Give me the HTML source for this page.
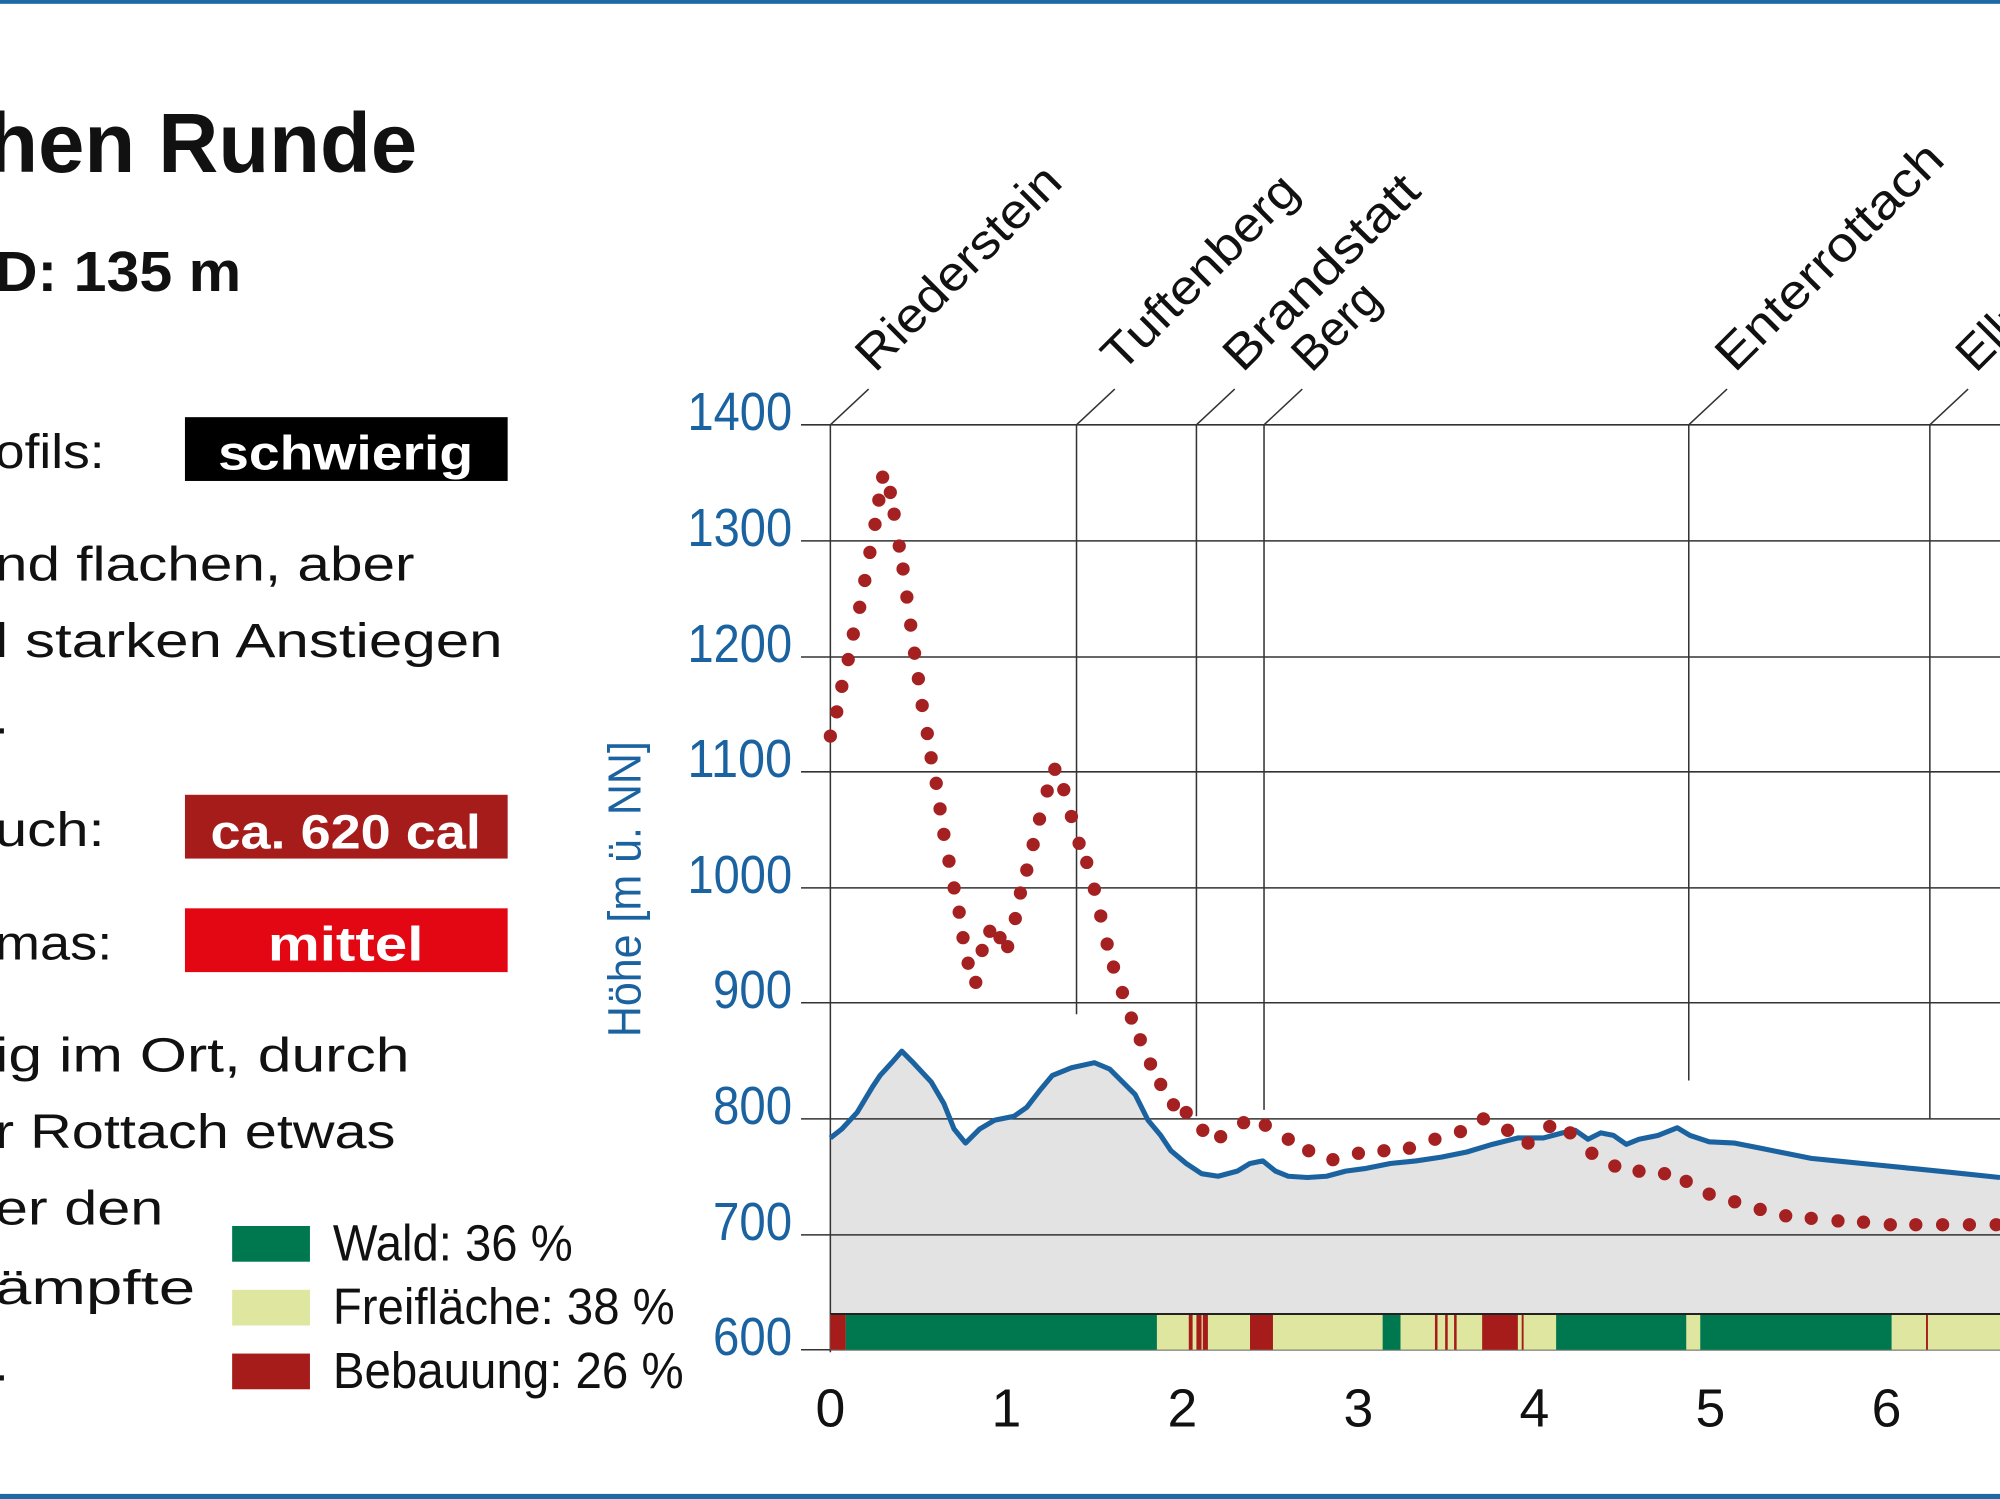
<!DOCTYPE html>
<html><head><meta charset="utf-8"><style>html,body{margin:0;padding:0;background:#fff;overflow:hidden}svg{display:block}</style></head><body>
<svg width="2000" height="1499" viewBox="0 0 1568 1175" preserveAspectRatio="none" xmlns="http://www.w3.org/2000/svg" font-family="Liberation Sans, sans-serif">
<rect width="1568" height="1175" fill="#fff"/>
<rect x="0" y="0" width="1568" height="3" fill="#1f6aa5"/>
<rect x="0" y="1171" width="1568" height="4" fill="#1f6aa5"/>
<g fill="#111">
<text x="-10" y="135" font-size="66" font-weight="bold" textLength="337" lengthAdjust="spacingAndGlyphs">hen Runde</text>
<text x="-4" y="228" font-size="44" font-weight="bold" textLength="193" lengthAdjust="spacingAndGlyphs">D: 135 m</text>
<g font-size="38" lengthAdjust="spacingAndGlyphs">
<text x="-4" y="367" textLength="86" lengthAdjust="spacingAndGlyphs">ofils:</text>
<text x="-4" y="455" textLength="329" lengthAdjust="spacingAndGlyphs">nd flachen, aber</text>
<text x="-4" y="515" textLength="398" lengthAdjust="spacingAndGlyphs">l starken Anstiegen</text>
<text x="-4" y="575"> .</text>
<text x="-4" y="663" textLength="86" lengthAdjust="spacingAndGlyphs">uch:</text>
<text x="-4" y="752" textLength="92" lengthAdjust="spacingAndGlyphs">mas:</text>
<text x="-4" y="840" textLength="325" lengthAdjust="spacingAndGlyphs">ig im Ort, durch</text>
<text x="-4" y="900" textLength="314" lengthAdjust="spacingAndGlyphs">r Rottach etwas</text>
<text x="-4" y="960" textLength="132" lengthAdjust="spacingAndGlyphs">er den</text>
<text x="-4" y="1022" textLength="157" lengthAdjust="spacingAndGlyphs">ämpfte</text>
<text x="-4" y="1082"> .</text>
</g>
</g>
<rect x="145" y="327" width="253" height="50" fill="#000"/>
<text x="271" y="368" font-size="38" font-weight="bold" fill="#fff" text-anchor="middle" textLength="200" lengthAdjust="spacingAndGlyphs">schwierig</text>
<rect x="145" y="623" width="253" height="50" fill="#a51c1a"/>
<text x="271" y="665" font-size="38" font-weight="bold" fill="#fff" text-anchor="middle" textLength="212" lengthAdjust="spacingAndGlyphs">ca. 620 cal</text>
<rect x="145" y="712" width="253" height="50" fill="#e30613"/>
<text x="271" y="753" font-size="38" font-weight="bold" fill="#fff" text-anchor="middle" textLength="122" lengthAdjust="spacingAndGlyphs">mittel</text>
<rect x="182" y="961" width="61" height="28" fill="#00784f"/>
<rect x="182" y="1011" width="61" height="28" fill="#dfe6a0"/>
<rect x="182" y="1061" width="61" height="28" fill="#a51c1a"/>
<g font-size="40" fill="#111">
<text x="261" y="988" textLength="188" lengthAdjust="spacingAndGlyphs">Wald: 36 %</text>
<text x="261" y="1038" textLength="268" lengthAdjust="spacingAndGlyphs">Freifläche: 38 %</text>
<text x="261" y="1088" textLength="275" lengthAdjust="spacingAndGlyphs">Bebauung: 26 %</text>
</g>
<text transform="translate(502,697) rotate(-90)" font-size="36" fill="#1b63a0" text-anchor="middle" textLength="232" lengthAdjust="spacingAndGlyphs">Höhe [m ü. NN]</text>
<g font-size="42" fill="#1b63a0" text-anchor="end">
<text x="621" y="337" textLength="82" lengthAdjust="spacingAndGlyphs">1400</text>
<text x="621" y="428" textLength="82" lengthAdjust="spacingAndGlyphs">1300</text>
<text x="621" y="519" textLength="82" lengthAdjust="spacingAndGlyphs">1200</text>
<text x="621" y="609" textLength="82" lengthAdjust="spacingAndGlyphs">1100</text>
<text x="621" y="700" textLength="82" lengthAdjust="spacingAndGlyphs">1000</text>
<text x="621" y="790" textLength="62" lengthAdjust="spacingAndGlyphs">900</text>
<text x="621" y="881" textLength="62" lengthAdjust="spacingAndGlyphs">800</text>
<text x="621" y="972" textLength="62" lengthAdjust="spacingAndGlyphs">700</text>
<text x="621" y="1062" textLength="62" lengthAdjust="spacingAndGlyphs">600</text>
</g>
<path fill="#e3e3e3" d="M651,1030 L651,892 L660,885 L672,872 L684,852 L690,843 L700,832 L707,824 L715,832 L730,848 L740,865 L748,885 L757,896 L768,885 L780,878 L795,875 L805,868 L815,855 L825,843 L840,837 L858,833 L870,838 L880,848 L890,858 L900,878 L910,890 L918,902 L930,912 L942,920 L955,922 L970,918 L980,912 L990,910 L1000,918 L1010,922 L1025,923 L1040,922 L1055,918 L1070,916 L1090,912 L1110,910 L1130,907 L1150,903 L1170,897 L1190,892 L1210,892 L1225,888 L1235,886 L1245,893 L1255,888 L1265,890 L1275,897 L1285,893 L1300,890 L1315,884 L1325,890 L1340,895 L1360,896 L1380,900 L1400,904 L1420,908 L1440,910 L1470,913 L1500,916 L1530,919 L1568,923 L1568,1030 Z"/>
<g stroke="#333" stroke-width="1.2">
<line x1="628" y1="333" x2="1568" y2="333"/>
<line x1="628" y1="424" x2="1568" y2="424"/>
<line x1="628" y1="515" x2="1568" y2="515"/>
<line x1="628" y1="605" x2="1568" y2="605"/>
<line x1="628" y1="696" x2="1568" y2="696"/>
<line x1="628" y1="786" x2="1568" y2="786"/>
<line x1="628" y1="877" x2="1568" y2="877"/>
<line x1="628" y1="968" x2="1568" y2="968"/>
<line x1="628" y1="1058" x2="1568" y2="1058"/>
<line x1="651" y1="333" x2="651" y2="1060"/>
<line x1="844" y1="333" x2="844" y2="795"/>
<line x1="938" y1="333" x2="938" y2="875"/>
<line x1="991" y1="333" x2="991" y2="870"/>
<line x1="1324" y1="333" x2="1324" y2="847"/>
<line x1="1513" y1="333" x2="1513" y2="877"/>
<line x1="651" y1="333" x2="681" y2="305"/>
<line x1="844" y1="333" x2="874" y2="305"/>
<line x1="938" y1="333" x2="968" y2="305"/>
<line x1="991" y1="333" x2="1021" y2="305"/>
<line x1="1324" y1="333" x2="1354" y2="305"/>
<line x1="1513" y1="333" x2="1543" y2="305"/>
</g>
<g font-size="38" fill="#111">
<text transform="translate(686,293) rotate(-45)" textLength="210" lengthAdjust="spacingAndGlyphs">Riederstein</text>
<text transform="translate(879,293) rotate(-45)" textLength="200" lengthAdjust="spacingAndGlyphs">Tuftenberg</text>
<text transform="translate(974,293) rotate(-45)" textLength="200" lengthAdjust="spacingAndGlyphs">Brandstatt</text>
<text transform="translate(1028,293) rotate(-45)">Berg</text>
<text transform="translate(1360,293) rotate(-45)" textLength="235" lengthAdjust="spacingAndGlyphs">Enterrottach</text>
<text transform="translate(1549,293) rotate(-45)">Ellmau</text>
</g>
<rect x="651" y="1030" width="917" height="28" fill="#dfe6a0"/>
<g fill="#00784f">
<rect x="663" y="1030" width="244" height="28"/>
<rect x="1084" y="1030" width="14" height="28"/>
<rect x="1220" y="1030" width="102" height="28"/>
<rect x="1333" y="1030" width="150" height="28"/>
</g>
<g fill="#a51c1a">
<rect x="651" y="1030" width="12" height="28"/>
<rect x="932" y="1030" width="3" height="28"/>
<rect x="938" y="1030" width="4" height="28"/>
<rect x="943" y="1030" width="4" height="28"/>
<rect x="980" y="1030" width="18" height="28"/>
<rect x="1125" y="1030" width="2" height="28"/>
<rect x="1133" y="1030" width="2" height="28"/>
<rect x="1140" y="1030" width="2" height="28"/>
<rect x="1162" y="1030" width="28" height="28"/>
<rect x="1193" y="1030" width="1.5" height="28"/>
<rect x="1510" y="1030" width="1.5" height="28"/>
</g>
<line x1="651" y1="1030" x2="1568" y2="1030" stroke="#222" stroke-width="1.5"/>
<polyline fill="none" stroke="#1b63a0" stroke-width="4" stroke-linejoin="round" points="651,892 660,885 672,872 684,852 690,843 700,832 707,824 715,832 730,848 740,865 748,885 757,896 768,885 780,878 795,875 805,868 815,855 825,843 840,837 858,833 870,838 880,848 890,858 900,878 910,890 918,902 930,912 942,920 955,922 970,918 980,912 990,910 1000,918 1010,922 1025,923 1040,922 1055,918 1070,916 1090,912 1110,910 1130,907 1150,903 1170,897 1190,892 1210,892 1225,888 1235,886 1245,893 1255,888 1265,890 1275,897 1285,893 1300,890 1315,884 1325,890 1340,895 1360,896 1380,900 1400,904 1420,908 1440,910 1470,913 1500,916 1530,919 1568,923"/>
<g font-size="42" fill="#111" text-anchor="middle">
<text x="651" y="1118">0</text>
<text x="789" y="1118">1</text>
<text x="927" y="1118">2</text>
<text x="1065" y="1118">3</text>
<text x="1203" y="1118">4</text>
<text x="1341" y="1118">5</text>
<text x="1479" y="1118">6</text>
</g>
<g fill="#a52020">
<circle cx="651" cy="577" r="5.2"/><circle cx="656" cy="558" r="5.2"/><circle cx="660" cy="538" r="5.2"/><circle cx="665" cy="517" r="5.2"/><circle cx="669" cy="497" r="5.2"/><circle cx="674" cy="476" r="5.2"/><circle cx="678" cy="455" r="5.2"/><circle cx="682" cy="433" r="5.2"/><circle cx="686" cy="411" r="5.2"/><circle cx="689" cy="392" r="5.2"/><circle cx="692" cy="374" r="5.2"/><circle cx="698" cy="386" r="5.2"/><circle cx="701" cy="403" r="5.2"/><circle cx="705" cy="428" r="5.2"/><circle cx="708" cy="446" r="5.2"/><circle cx="711" cy="468" r="5.2"/><circle cx="714" cy="490" r="5.2"/><circle cx="717" cy="512" r="5.2"/><circle cx="720" cy="532" r="5.2"/><circle cx="723" cy="553" r="5.2"/><circle cx="727" cy="575" r="5.2"/><circle cx="730" cy="594" r="5.2"/><circle cx="734" cy="614" r="5.2"/><circle cx="737" cy="634" r="5.2"/><circle cx="740" cy="654" r="5.2"/><circle cx="744" cy="675" r="5.2"/><circle cx="748" cy="696" r="5.2"/><circle cx="752" cy="715" r="5.2"/><circle cx="755" cy="735" r="5.2"/><circle cx="759" cy="755" r="5.2"/><circle cx="765" cy="770" r="5.2"/><circle cx="770" cy="745" r="5.2"/><circle cx="776" cy="730" r="5.2"/><circle cx="784" cy="735" r="5.2"/><circle cx="790" cy="742" r="5.2"/><circle cx="796" cy="720" r="5.2"/><circle cx="800" cy="700" r="5.2"/><circle cx="805" cy="682" r="5.2"/><circle cx="810" cy="662" r="5.2"/><circle cx="815" cy="642" r="5.2"/><circle cx="821" cy="620" r="5.2"/><circle cx="827" cy="603" r="5.2"/><circle cx="834" cy="619" r="5.2"/><circle cx="840" cy="640" r="5.2"/><circle cx="846" cy="661" r="5.2"/><circle cx="852" cy="676" r="5.2"/><circle cx="858" cy="697" r="5.2"/><circle cx="863" cy="718" r="5.2"/><circle cx="868" cy="740" r="5.2"/><circle cx="873" cy="758" r="5.2"/><circle cx="880" cy="778" r="5.2"/><circle cx="887" cy="798" r="5.2"/><circle cx="894" cy="815" r="5.2"/><circle cx="902" cy="834" r="5.2"/><circle cx="910" cy="850" r="5.2"/><circle cx="920" cy="866" r="5.2"/><circle cx="930" cy="872" r="5.2"/><circle cx="943" cy="886" r="5.2"/><circle cx="957" cy="891" r="5.2"/><circle cx="975" cy="880" r="5.2"/><circle cx="992" cy="882" r="5.2"/><circle cx="1010" cy="893" r="5.2"/><circle cx="1026" cy="902" r="5.2"/><circle cx="1045" cy="909" r="5.2"/><circle cx="1065" cy="904" r="5.2"/><circle cx="1085" cy="902" r="5.2"/><circle cx="1105" cy="900" r="5.2"/><circle cx="1125" cy="893" r="5.2"/><circle cx="1145" cy="887" r="5.2"/><circle cx="1163" cy="877" r="5.2"/><circle cx="1182" cy="886" r="5.2"/><circle cx="1198" cy="896" r="5.2"/><circle cx="1215" cy="883" r="5.2"/><circle cx="1231" cy="888" r="5.2"/><circle cx="1248" cy="904" r="5.2"/><circle cx="1266" cy="914" r="5.2"/><circle cx="1285" cy="918" r="5.2"/><circle cx="1305" cy="920" r="5.2"/><circle cx="1322" cy="926" r="5.2"/><circle cx="1340" cy="936" r="5.2"/><circle cx="1360" cy="942" r="5.2"/><circle cx="1380" cy="948" r="5.2"/><circle cx="1400" cy="953" r="5.2"/><circle cx="1420" cy="955" r="5.2"/><circle cx="1441" cy="957" r="5.2"/><circle cx="1461" cy="958" r="5.2"/><circle cx="1482" cy="960" r="5.2"/><circle cx="1502" cy="960" r="5.2"/><circle cx="1523" cy="960" r="5.2"/><circle cx="1544" cy="960" r="5.2"/><circle cx="1565" cy="960" r="5.2"/>
</g>
</svg>
</body></html>
